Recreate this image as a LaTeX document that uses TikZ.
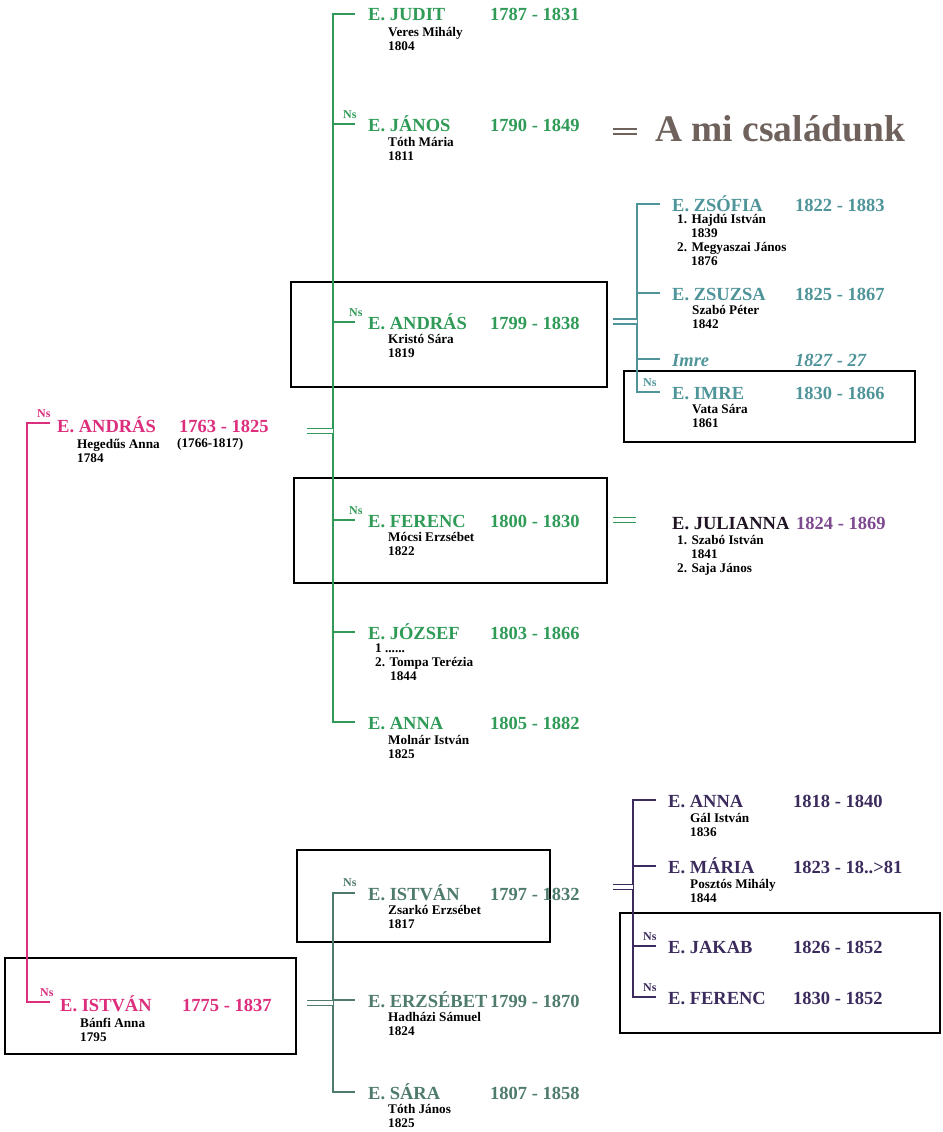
\documentclass[tikz,border=0pt]{standalone}
\usepackage{fontspec}
\setmainfont{Liberation Serif}
\definecolor{rozsa}{HTML}{DC2E7C}
\definecolor{zold}{HTML}{2F9B57}
\definecolor{kekes}{HTML}{4E9499}
\definecolor{szurke}{HTML}{4E7B6C}
\definecolor{lila}{HTML}{3C2C5E}
\definecolor{julcsi}{HTML}{7E4A8F}
\definecolor{barna}{HTML}{6F625C}
\tikzset{
  ag/.style={line width=1.4pt},
  keret/.style={draw=black, line width=2.2pt},
  nev/.style={font=\fontsize{18.5}{20}\selectfont\bfseries, inner sep=0pt, anchor=base west},
  parja/.style={font=\fontsize{13.2}{14}\selectfont\bfseries, inner sep=0pt, anchor=north west, align=left, text=black},
  ns/.style={font=\fontsize{12}{12}\selectfont\bfseries, inner sep=0pt, anchor=base west},
  egyenlo/.style={ag, double, double distance=3.4pt},
}

\begin{document}
\begin{tikzpicture}[x=1pt,y=-1pt]
  \useasboundingbox (0,0) rectangle (942,1132);

  \draw[keret] (291,282) rectangle (607,387);
  \draw[keret] (294,478) rectangle (607,583);
  \draw[keret] (624,371) rectangle (915,442);
  \draw[keret] (297,850) rectangle (550,942);
  \draw[keret] (620,913) rectangle (940,1033);
  \draw[keret] (5,958) rectangle (296,1054);

  % E. Andras 1763 es E. Istvan 1775
  \begin{scope}[color=rozsa]
    \coordinate (rt) at (27,0);
    \coordinate (andras0-v) at (50,423);
    \coordinate (istvan0-v) at (50,1002);
    \draw[ag] (andras0-v) -- (andras0-v -| rt) -- (istvan0-v -| rt) -- (istvan0-v);
    \node[ns] (andras0-ns) at (37,417) {Ns};
    \node[nev] (andras0) at (57,432) {E. ANDRÁS};
    \node[nev] (andras0-ev) at (179,432) {1763 - 1825};
    \node[parja] (andras0-p) at (77,438.5) {Hegedűs Anna\\1784};
    \node[parja] (andras0-pev) at (177,438.5) {(1766-1817)};
    \node[ns] (istvan0-ns) at (40,996) {Ns};
    \node[nev] (istvan0) at (60,1011) {E. ISTVÁN};
    \node[nev] (istvan0-ev) at (182,1011) {1775 - 1837};
    \node[parja] (istvan0-p) at (80,1017.5) {Bánfi Anna\\1795};
  \end{scope}

  % gyerekek 1
  \begin{scope}[color=zold]
    \coordinate (zt) at (333,0);
    \coordinate (judit-v) at (355,14);
    \coordinate (janos-v) at (355,124);
    \coordinate (andras-v) at (355,322);
    \coordinate (ferenc-v) at (355,520);
    \coordinate (jozsef-v) at (355,632);
    \coordinate (anna-v) at (355,722);
    \draw[ag] (judit-v) -- (judit-v -| zt) -- (anna-v -| zt) -- (anna-v);
    \foreach \k in {janos,andras,ferenc,jozsef}
      \draw[ag] (\k-v -| zt) -- (\k-v);
    \coordinate (eq0) at (307,431);
    \draw[egyenlo] (eq0) -- (eq0 -| zt);
    \coordinate (eq3) at (613,520);
    \coordinate (eq3b) at (636,520);
    \draw[egyenlo] (eq3) -- (eq3b);

    \node[nev] (judit) at (368,21) {E. JUDIT};
    \node[nev] (judit-ev) at (490,21) {1787 - 1831};
    \node[parja] (judit-p) at (388,27.5) {Veres Mihály\\1804};

    \node[ns] (janos-ns) at (343,118) {Ns};
    \node[nev] (janos) at (368,131) {E. JÁNOS};
    \node[nev] (janos-ev) at (490,131) {1790 - 1849};
    \node[parja] (janos-p) at (388,137.5) {Tóth Mária\\1811};

    \node[ns] (andras-ns) at (349,316) {Ns};
    \node[nev] (andras) at (368,329) {E. ANDRÁS};
    \node[nev] (andras-ev) at (490,329) {1799 - 1838};
    \node[parja] (andras-p) at (388,334.5) {Kristó Sára\\1819};

    \node[ns] (ferenc-ns) at (349,514) {Ns};
    \node[nev] (ferenc) at (368,527) {E. FERENC};
    \node[nev] (ferenc-ev) at (490,527) {1800 - 1830};
    \node[parja] (ferenc-p) at (388,532.5) {Mócsi Erzsébet\\1822};

    \node[nev] (jozsef) at (368,639) {E. JÓZSEF};
    \node[nev] (jozsef-ev) at (490,639) {1803 - 1866};
    \node[parja] (jozsef-p) at (375,643.5) {1 ......\\2. Tompa Terézia\\\hspace*{15pt}1844};

    \node[nev] (anna) at (368,729) {E. ANNA};
    \node[nev] (anna-ev) at (490,729) {1805 - 1882};
    \node[parja] (anna-p) at (388,735.5) {Molnár István\\1825};
  \end{scope}

  \coordinate (eq1) at (613,131.5);
  \coordinate (eq1b) at (637,131.5);
  \draw[egyenlo, barna] (eq1) -- (eq1b);
  \node[font=\fontsize{37.5}{40}\selectfont\bfseries, text=barna, inner sep=0pt,
    anchor=base west] (csalad) at (655,141) {A mi családunk};

  % E. Andras 1799 gyerekei
  \begin{scope}[color=kekes]
    \coordinate (kt) at (637,0);
    \coordinate (zsofia-v) at (660,204);
    \coordinate (zsuzsa-v) at (660,293);
    \coordinate (imre0-v) at (660,359);
    \coordinate (imre-v) at (660,392);
    \draw[ag] (zsofia-v) -- (zsofia-v -| kt) -- (imre-v -| kt) -- (imre-v);
    \foreach \k in {zsuzsa,imre0}
      \draw[ag] (\k-v -| kt) -- (\k-v);
    \coordinate (eq2) at (613,321.5);
    \draw[egyenlo] (eq2) -- (eq2 -| kt);

    \node[nev] (zsofia) at (672,211) {E. ZSÓFIA};
    \node[nev] (zsofia-ev) at (795,211) {1822 - 1883};
    \node[parja] (zsofia-p) at (677,214.5)
      {1. Hajdú István\\\hspace*{14pt}1839\\2. Megyaszai János\\\hspace*{14pt}1876};

    \node[nev] (zsuzsa) at (672,300) {E. ZSUZSA};
    \node[nev] (zsuzsa-ev) at (795,300) {1825 - 1867};
    \node[parja] (zsuzsa-p) at (692,305.5) {Szabó Péter\\1842};

    \node[nev, font=\fontsize{18.5}{20}\selectfont\bfseries\itshape] (imre0) at (672,366) {Imre};
    \node[nev, font=\fontsize{18.5}{20}\selectfont\bfseries\itshape] (imre0-ev) at (795,366) {1827 - 27};

    \node[ns] (imre-ns) at (643,386) {Ns};
    \node[nev] (imre) at (672,399) {E. IMRE};
    \node[nev] (imre-ev) at (795,399) {1830 - 1866};
    \node[parja] (imre-p) at (692,404.5) {Vata Sára\\1861};
  \end{scope}

  % E. Ferenc 1800 lanya
  \node[nev, text=black!75!julcsi] (julianna) at (672,529) {E. JULIANNA};
  \node[nev, text=julcsi] (julianna-ev) at (796,529) {1824 - 1869};
  \node[parja] (julianna-p) at (677,535.5)
    {1. Szabó István\\\hspace*{14pt}1841\\2. Saja János};

  % E. Istvan 1775 gyerekei
  \begin{scope}[color=szurke]
    \coordinate (st) at (333,0);
    \coordinate (istvan-v) at (355,893);
    \coordinate (erzsebet-v) at (355,1000);
    \coordinate (sara-v) at (355,1092);
    \draw[ag] (istvan-v) -- (istvan-v -| st) -- (sara-v -| st) -- (sara-v);
    \draw[ag] (erzsebet-v -| st) -- (erzsebet-v);
    \coordinate (eq4) at (307,1003);
    \draw[egyenlo] (eq4) -- (eq4 -| st);

    \node[ns] (istvan-ns) at (343,886) {Ns};
    \node[nev] (istvan) at (368,900) {E. ISTVÁN};
    \node[nev] (istvan-ev) at (490,900) {1797 - 1832};
    \node[parja] (istvan-p) at (388,905.5) {Zsarkó Erzsébet\\1817};

    \node[nev] (erzsebet) at (368,1007) {E. ERZSÉBET};
    \node[nev] (erzsebet-ev) at (490,1007) {1799 - 1870};
    \node[parja] (erzsebet-p) at (388,1012.5) {Hadházi Sámuel\\1824};

    \node[nev] (sara) at (368,1099) {E. SÁRA};
    \node[nev] (sara-ev) at (490,1099) {1807 - 1858};
    \node[parja] (sara-p) at (388,1104.5) {Tóth János\\1825};
  \end{scope}

  % E. Istvan 1797 gyerekei
  \begin{scope}[color=lila]
    \coordinate (lt) at (633,0);
    \coordinate (anna2-v) at (656,800);
    \coordinate (maria-v) at (656,866);
    \coordinate (jakab-v) at (656,946);
    \coordinate (ferenc2-v) at (656,997);
    \draw[ag] (anna2-v) -- (anna2-v -| lt) -- (ferenc2-v -| lt) -- (ferenc2-v);
    \foreach \k in {maria,jakab}
      \draw[ag] (\k-v -| lt) -- (\k-v);
    \coordinate (eq5) at (613,887);
    \draw[egyenlo] (eq5) -- (eq5 -| lt);

    \node[nev] (anna2) at (668,807) {E. ANNA};
    \node[nev] (anna2-ev) at (793,807) {1818 - 1840};
    \node[parja] (anna2-p) at (690,813.5) {Gál István\\1836};

    \node[nev] (maria) at (668,873) {E. MÁRIA};
    \node[nev] (maria-ev) at (793,873) {1823 - 18..>81};
    \node[parja] (maria-p) at (690,879.5) {Posztós Mihály\\1844};

    \node[ns] (jakab-ns) at (643,940) {Ns};
    \node[nev] (jakab) at (668,953) {E. JAKAB};
    \node[nev] (jakab-ev) at (793,953) {1826 - 1852};

    \node[ns] (ferenc2-ns) at (643,991) {Ns};
    \node[nev] (ferenc2) at (668,1004) {E. FERENC};
    \node[nev] (ferenc2-ev) at (793,1004) {1830 - 1852};
  \end{scope}
\end{tikzpicture}
\end{document}
